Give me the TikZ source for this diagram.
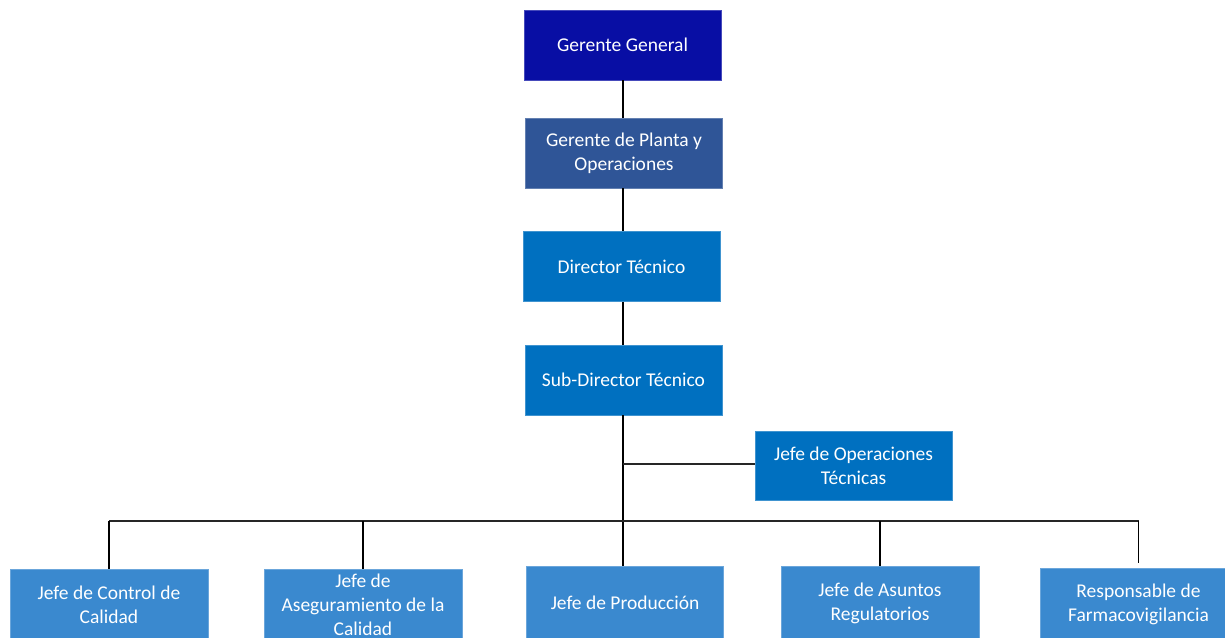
\documentclass[tikz,border=0pt]{standalone}
\usepackage{fontspec}
\setmainfont{Carlito}
\definecolor{cgg}{RGB}{8,14,164}
\definecolor{cgp}{RGB}{47,85,151}
\definecolor{cmid}{RGB}{0,112,192}
\definecolor{clow}{RGB}{58,137,207}
\begin{document}
\begin{tikzpicture}[x=1pt,y=-1pt,
  box/.style={rectangle, minimum width=197pt, minimum height=70pt, inner sep=0pt,
    align=center, text=white, font=\fontsize{19.5}{24}\selectfont, line width=0.8pt},
  topbox/.style={box, fill=cgg, draw=cgg!75!white},
  plantbox/.style={box, fill=cgp, draw=cgp!75!white},
  midbox/.style={box, fill=cmid, draw=cmid!75!white},
  lowbox/.style={box, fill=clow, draw=clow!75!white, minimum height=72pt},
  link/.style={draw=black, line width=1.8pt},
  buslink/.style={draw=black!85, line width=1.6pt}]
\clip (0,0) rectangle (1225,637);
\fill[white] (0,0) rectangle (1225,637);
\node[topbox]   (gg)  at (622.5,45)  {Gerente General};
\node[plantbox] (gp)  at (624,153)   {Gerente de Planta y\\Operaciones};
\node[midbox]   (dt)  at (621.5,266.5) {Director Técnico};
\node[midbox]   (sd)  at (623.5,380) {Sub-Director Técnico};
\node[midbox, minimum height=69pt] (ops) at (853.5,465.5) {Jefe de Operaciones\\Técnicas};
\node[lowbox, minimum width=198pt] (cc)   at (109,605)  {Jefe de Control de\\Calidad};
\node[lowbox, minimum width=198pt] (aq)   at (363,605)  {Jefe de\\Aseguramiento de la\\Calidad};
\node[lowbox, minimum height=74pt] (prod) at (625,603)  {Jefe de Producción};
\node[lowbox, minimum width=198pt, minimum height=74pt] (ar) at (880,603) {Jefe de Asuntos\\Regulatorios};
\node[lowbox] (resp) at (1138.5,604) {Responsable de\\Farmacovigilancia};
\coordinate (bus) at (623,521);
\coordinate (opsj) at (623,464);
\draw[link] (gg.south -| 623,0) -- (gp.north -| 623,0);
\draw[link] (gp.south -| 623,0) -- (dt.north -| 623,0);
\draw[link] (dt.south -| 623,0) -- (sd.north -| 623,0);
\draw[link] (sd.south -| 623,0) -- (prod.north -| 623,0);
\draw[buslink] (opsj) -- (opsj -| ops.west);
\draw[buslink] (cc.north |- bus) -- (resp.north |- bus);
\draw[link] (cc.north |- bus) -- (cc.north);
\draw[link] (aq.north |- bus) -- (aq.north);
\draw[link] (ar.north |- bus) -- (ar.north);
\draw[link] (resp.north |- bus) -- ([yshift=5pt]resp.north);
\end{tikzpicture}
\end{document}
